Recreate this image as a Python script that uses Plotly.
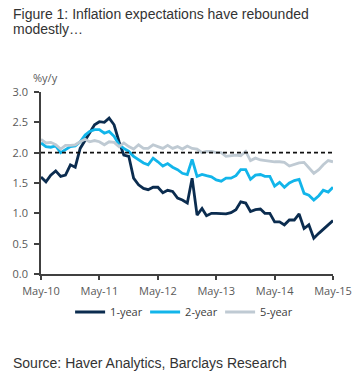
import pandas as pd
import plotly.graph_objects as go

dates = pd.date_range("2010-05-01", "2015-05-01", freq="MS")

one_year = [1.60, 1.52, 1.63, 1.70, 1.61, 1.63, 1.80, 1.76, 2.07, 2.21,
            2.32, 2.46, 2.51, 2.50, 2.57, 2.46, 2.18, 1.96, 1.94, 1.58,
            1.47, 1.41, 1.39, 1.43, 1.43, 1.34, 1.38, 1.36, 1.25, 1.22,
            1.17, 1.58, 0.97, 1.08, 0.96, 1.00, 1.00, 0.99, 0.99, 1.01,
            1.06, 1.19, 1.17, 1.03, 1.06, 1.07, 1.00, 1.00, 0.86, 0.86,
            0.81, 0.89, 0.89, 0.99, 0.75, 0.81, 0.59, 0.67, 0.73, 0.81,
            0.88]
two_year = [2.16, 2.10, 2.09, 2.11, 2.00, 2.05, 2.10, 2.11, 2.18, 2.29,
            2.35, 2.38, 2.38, 2.32, 2.35, 2.27, 2.13, 2.07, 2.02, 1.94,
            1.88, 1.83, 1.80, 1.91, 1.85, 1.78, 1.82, 1.76, 1.72, 1.66,
            1.64, 1.89, 1.61, 1.64, 1.62, 1.60, 1.55, 1.53, 1.58, 1.58,
            1.62, 1.72, 1.72, 1.56, 1.63, 1.64, 1.61, 1.61, 1.45, 1.51,
            1.43, 1.50, 1.54, 1.56, 1.33, 1.30, 1.22, 1.29, 1.38, 1.35,
            1.43]
five_year = [2.22, 2.16, 2.17, 2.13, 2.06, 2.12, 2.12, 2.13, 2.18, 2.22,
             2.18, 2.20, 2.18, 2.13, 2.18, 2.17, 2.10, 2.16, 2.10, 2.06,
             2.13, 2.07, 2.07, 2.13, 2.10, 2.07, 2.12, 2.07, 2.10, 2.06,
             2.11, 2.07, 2.06, 2.00, 2.02, 2.02, 2.00, 2.00, 1.94, 1.95,
             1.96, 1.95, 2.02, 1.87, 1.91, 1.88, 1.87, 1.85, 1.85, 1.85,
             1.84, 1.78, 1.81, 1.83, 1.84, 1.76, 1.66, 1.72, 1.80, 1.87,
             1.85]

series_names = ["1-year", "2-year", "5-year"]
target = 2.0
y_ticks = [0.0, 0.5, 1.0, 1.5, 2.0, 2.5, 3.0]
x_ticks = pd.date_range("2010-05-01", "2015-05-01", freq="12MS")

colors = ["#0B2C4F", "#12B5EA", "#BFCAD3"]
tick_font = dict(family="Open Sans, sans-serif", size=11, color="#595959")

W, H = 364, 386
L, T = 41, 92
PW, PH = 301, 182
R, B = W - L - PW, H - T - PH


def px_x(px):
    return (px - L) / PW


def px_y(py):
    return 1 - (py - T) / PH


fig = go.Figure()
for name, vals, col in zip(series_names, [one_year, two_year, five_year], colors):
    fig.add_trace(go.Scatter(x=dates, y=vals, mode="lines", name=name,
                             line=dict(color=col, width=2.8)))

fig.add_shape(type="line", xref="x", yref="y", x0=dates[0], x1=dates[-1],
              y0=target, y1=target, line=dict(color="#111111", width=1.8, dash="4px,3px"),
              layer="above")

fig.update_xaxes(range=[dates[0], dates[-1]], tickvals=x_ticks, tickformat="%b-%y",
                 showgrid=False, zeroline=False, showline=True, linecolor="#404040",
                 linewidth=1.5, ticks="outside", ticklen=4, tickwidth=1.5,
                 tickcolor="#404040", tickfont=tick_font, ticklabelstandoff=2)
fig.update_yaxes(range=[0, 3], tickvals=y_ticks, tickformat=".1f",
                 showgrid=False, zeroline=False, showline=True, linecolor="#404040",
                 linewidth=1.5, ticks="outside", ticklen=5, tickwidth=1.5,
                 tickcolor="#404040", tickfont=tick_font, ticklabelstandoff=4)

title_font = dict(family="Liberation Sans, Arial, sans-serif", size=14, color="#333333")
fig.add_annotation(text="Figure 1: Inflation expectations have rebounded", xref="paper", yref="paper",
                   x=px_x(10), y=px_y(14), xanchor="left", yanchor="middle",
                   showarrow=False, font=title_font)
fig.add_annotation(text="modestly…", xref="paper", yref="paper",
                   x=px_x(10), y=px_y(29.5), xanchor="left", yanchor="middle",
                   showarrow=False, font=title_font)
fig.add_annotation(text="%y/y", xref="paper", yref="paper",
                   x=px_x(31), y=px_y(77), xanchor="left", yanchor="middle",
                   showarrow=False, font=dict(family="Open Sans, sans-serif", size=11, color="#595959"))
fig.add_annotation(text="Source: Haver Analytics, Barclays Research", xref="paper", yref="paper",
                   x=px_x(10), y=px_y(363), xanchor="left", yanchor="middle",
                   showarrow=False, font=title_font)

fig.update_layout(
    width=W, height=H, autosize=False,
    margin=dict(l=L, r=R, t=T, b=B),
    plot_bgcolor="white", paper_bgcolor="white",
    legend=dict(orientation="h", x=px_x(71), xanchor="left",
                y=px_y(312), yanchor="middle",
                font=dict(family="Open Sans, sans-serif", size=11, color="#404040"),
                entrywidth=30, tracegroupgap=0, bgcolor="rgba(0,0,0,0)"),
)

fig.write_html("out.html", config={"displayModeBar": False},
               post_script="document.body.style.margin='0px';")
